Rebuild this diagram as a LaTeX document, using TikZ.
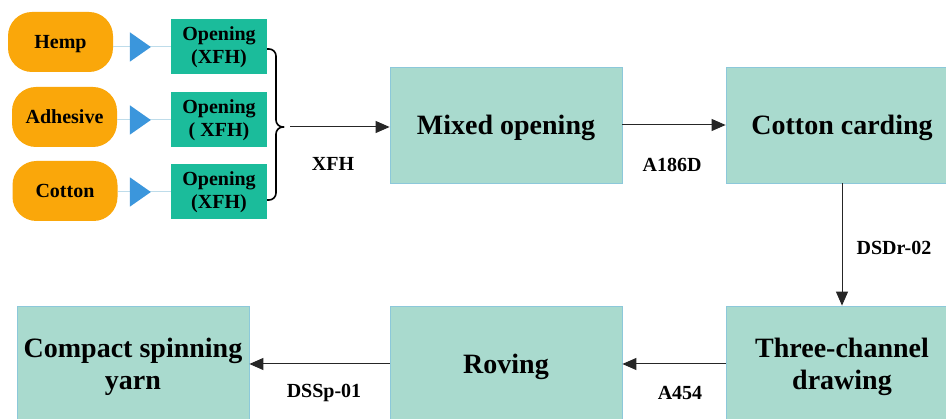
\documentclass[tikz,border=0pt]{standalone}
\usepackage{fontspec}
\setmainfont{Liberation Serif}
\usetikzlibrary{arrows.meta,shapes.geometric,calc}
\definecolor{pillor}{HTML}{FAA70A}
\definecolor{opteal}{HTML}{1BBC9B}
\definecolor{mainfill}{HTML}{A9DACE}
\definecolor{mainedge}{HTML}{8CC8DA}
\definecolor{triblue}{HTML}{3B96DC}
\definecolor{thinblue}{HTML}{BEDCEA}
\begin{document}
\begin{tikzpicture}[x=1pt,y=-1pt,
  pill/.style={fill=pillor,rounded corners=24pt,minimum width=105pt,minimum height=60pt,inner sep=0pt,text depth=0pt,font=\fontsize{20}{23.5}\selectfont\bfseries},
  opbox/.style={fill=opteal,minimum width=96pt,minimum height=55pt,inner sep=0pt,align=center,font=\fontsize{20}{23.5}\selectfont\bfseries},
  mainbox/.style={fill=mainfill,draw=mainedge,line width=0.8pt,minimum width=232pt,minimum height=116pt,inner sep=0pt,text depth=0pt,align=center,font=\fontsize{28}{32}\selectfont\bfseries},
  tri/.style={isosceles triangle,isosceles triangle apex angle=70,fill=triblue,inner sep=0pt,minimum height=21pt,minimum width=22pt,anchor=center},
  thin/.style={draw=thinblue,line width=1pt},
  arr/.style={draw=black!85,line width=1pt,-{Triangle[length=14pt,width=12pt]}},
  lbl/.style={font=\fontsize{20}{24}\selectfont\bfseries}
]
\useasboundingbox (0,0) rectangle (946,419);
\fill[white] (0,0) rectangle (946,419);

% pills
\node[pill] (hemp) at (60.5,42) {Hemp};
\node[pill] (adh) at (64.5,117) {Adhesive};
\node[pill] (cot) at (65,191) {Cotton};

% opening boxes
\node[opbox] (op1) at (219,47) {Opening\\(XFH)};
\node[opbox] (op2) at (219,120) {Opening\\( XFH)};
\node[opbox] (op3) at (219,192) {Opening\\(XFH)};

% thin connectors with triangles
\draw[thin] (hemp.east |- op1) -- (op1.west);
\draw[thin] (adh.east |- op2) -- (op2.west);
\draw[thin] (cot.east |- op3) -- (op3.west);
\node[tri] (t1) at (137.5,47) {};
\node[tri] (t2) at (137.5,120) {};
\node[tri] (t3) at (137.5,192) {};

% brace
\coordinate (btop) at (267,49);
\coordinate (bbot) at (267,200);
\coordinate (btip) at (284,127);
\draw[black,line width=1.6pt,rounded corners=7pt] (btop) -| (276,127) -- (btip);
\draw[black,line width=1.6pt,rounded corners=7pt] (bbot) -| (276,127) -- (btip);

% main boxes
\node[mainbox] (mix) at (506,125) {Mixed opening};
\node[mainbox] (card) at (842,125) {Cotton carding};
\node[mainbox] (draw) at (842,364) {Three-channel\\drawing};
\node[mainbox] (rov) at (506,364) {Roving};
\node[mainbox] (comp) at (133,364) {Compact spinning\\yarn};

% arrows
\coordinate (bstart) at (290,127);
\draw[arr] (bstart) -- (bstart -| mix.west);
\draw[arr] (mix.east) -- (card.west);
\draw[arr] (card.south) -- (draw.north);
\draw[arr] (draw.west) -- (rov.east);
\draw[arr] (rov.west) -- (comp.east);

% labels
\node[lbl] (l1) at (333,164) {XFH};
\node[lbl] (l2) at (672,165) {A186D};
\node[lbl] (l3) at (894,248) {DSDr-02};
\node[lbl] (l4) at (680,393) {A454};
\node[lbl] (l5) at (324,393) {DSSp-01};
\end{tikzpicture}
\end{document}
